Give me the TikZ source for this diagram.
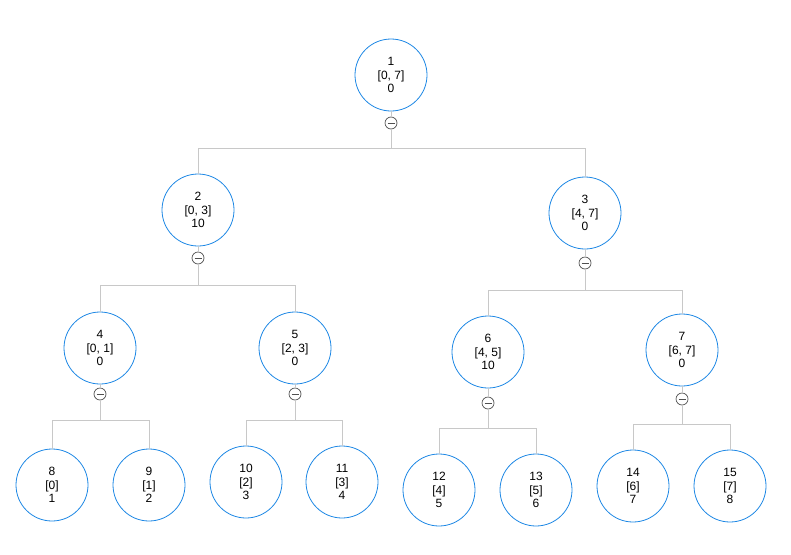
\documentclass[tikz,border=0pt]{standalone}
\usepackage{fontspec}
\setmainfont{Liberation Sans}
\definecolor{nb}{RGB}{30,136,229}
\definecolor{ln}{RGB}{200,200,200}
\definecolor{bt}{RGB}{80,80,80}
\begin{document}
\begin{tikzpicture}[x=1pt,y=-1pt,
  tn/.style={circle,draw=nb,line width=0.8pt,minimum size=72pt,inner sep=0pt,align=center,font=\fontsize{12}{13.5}\selectfont,fill=white},
  btn/.style={circle,draw=bt,line width=0.7pt,minimum size=12pt,inner sep=0pt,fill=white},
  cn/.style={draw=ln,line width=0.8pt}]
\useasboundingbox (0,0) rectangle (791,554);
\node[tn] (n1) at (391,75) {1\\{[0, 7]}\\0};
\node[tn] (n2) at (198,210) {2\\{[0, 3]}\\10};
\node[tn] (n3) at (585,213) {3\\{[4, 7]}\\0};
\node[tn] (n4) at (100,348) {4\\{[0, 1]}\\0};
\node[tn] (n5) at (295,348) {5\\{[2, 3]}\\0};
\node[tn] (n6) at (488,352) {6\\{[4, 5]}\\10};
\node[tn] (n7) at (682,350) {7\\{[6, 7]}\\0};
\node[tn] (n8) at (52,485) {8\\{[0]}\\1};
\node[tn] (n9) at (149,485) {9\\{[1]}\\2};
\node[tn] (n10) at (246,482) {10\\{[2]}\\3};
\node[tn] (n11) at (342,482) {11\\{[3]}\\4};
\node[tn] (n12) at (439,490) {12\\{[4]}\\5};
\node[tn] (n13) at (536,490) {13\\{[5]}\\6};
\node[tn] (n14) at (633,486) {14\\{[6]}\\7};
\node[tn] (n15) at (730,486) {15\\{[7]}\\8};
\foreach \p/\a/\b/\d/\by in {1/2/3/19/123, 2/4/5/21/258, 3/6/7/21/263, 4/8/9/20/394, 5/10/11/20/394, 6/12/13/19/403, 7/14/15/19/399}{
  \node[btn] (b\p) at (n\p.center |- 0,\by) {};
  \draw[cn] (n\p.south) -- (b\p.north);
  \draw[cn] (b\p.south) -- +(0,\d) -| (n\a.north);
  \draw[cn] (b\p.south) -- +(0,\d) -| (n\b.north);
  \draw[bt,line width=0.8pt] ([xshift=-3.5pt]b\p.center) -- ([xshift=3.5pt]b\p.center);
}
\end{tikzpicture}
\end{document}
